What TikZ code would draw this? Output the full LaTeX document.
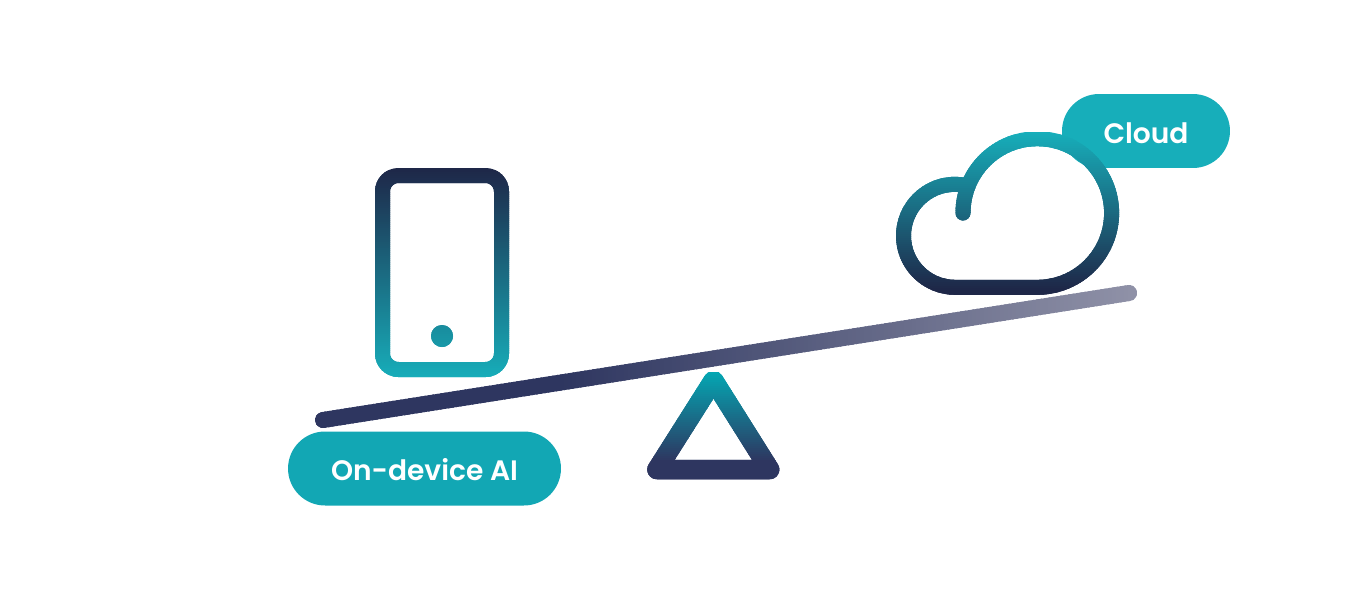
\documentclass[tikz,border=0pt]{standalone}
\usepackage{fontspec}
\setmainfont{Poppins}[UprightFont=* SemiBold]
\usepackage{tikz}

\definecolor{navy}{HTML}{1E2748}
\definecolor{slate}{HTML}{2E3660}
\definecolor{mist}{HTML}{9092A8}
\definecolor{teal1}{HTML}{17AEBA}
\definecolor{teal2}{HTML}{12A7B4}
\definecolor{teal3}{HTML}{04A6B2}

% gradient stroke: the drawing is repeated through thin horizontal strips
\newcommand{\gradstrips}[5]{
	\pgfmathtruncatemacro{\stripnext}{#1-2}
	\pgfmathtruncatemacro{\stripend}{#2-24}
	\foreach \yy in {#1,\stripnext,...,\stripend} {
		\pgfmathsetmacro{\mixval}{max(0,min(100,(\yy-#2)/(#1-#2)*100))}
		\begin{scope}
			\clip (0,\yy) rectangle (1352,\yy-4);
			\colorlet{stripcol}{#3!\mixval!#4}
			#5
		\end{scope}
	}
}

\begin{document}
\begin{tikzpicture}[x=0.02cm, y=0.02cm,
		pill/.style={text=white, font=\fontsize{16}{20}\selectfont, minimum height=1.48cm,
			rounded corners=0.74cm, inner sep=0pt, text depth=0pt}]
	\useasboundingbox (0,0) rectangle (1352,600);

	\node[pill, fill=teal2, minimum width=5.46cm, text height=0.46cm] (devicepill) at (424.5,131.5) {On-device AI};
	\node[pill, fill=teal1, minimum width=3.36cm, text height=0.5cm] (cloudpill) at (1146,469) {Cloud};

	% phone
	\gradstrips{432}{222}{navy}{teal1}{
		\draw[stripcol, line width=0.3cm, rounded corners=0.32cm] (382.5,230.5) rectangle (501.5,424.5);
		\fill[stripcol] (442,264) circle (11);
	}

	% cloud
	\gradstrips{468}{312}{teal1}{navy}{
		\draw[stripcol, line width=0.3cm, line cap=round, line join=round]
			(963,387) arc (180:-90:74.3) -- (955,312.7) arc (270:90:51.5) -- (966,415);
	}

	% triangle
	\gradstrips{228}{140}{teal3}{slate}{
		\draw[stripcol, line width=0.39cm, line join=round]
			(713.5,219.7) -- (769.6,130.5) -- (657,130.5) -- cycle;
	}

	% beam, strips run across it here
	\foreach \xx in {312,316,...,1140} {
		\pgfmathsetmacro{\mixval}{max(0,min(100,(\xx-560)/(1137-560)*100))}
		\begin{scope}
			\clip (\xx,150) rectangle (\xx+6,330);
			\draw[mist!\mixval!slate, line width=0.32cm, line cap=round] (323,180) -- (1129,307);
		\end{scope}
	}
\end{tikzpicture}
\end{document}
